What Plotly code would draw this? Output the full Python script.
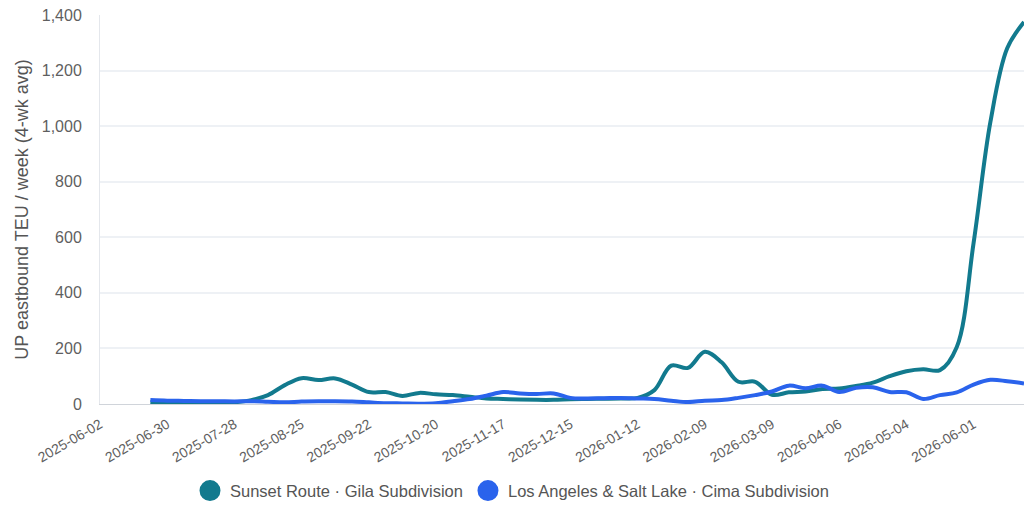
import pandas as pd
import plotly.graph_objects as go

weeks = pd.date_range("2025-06-23", periods=53, freq="7D").strftime("%Y-%m-%d").tolist()

sunset_gila = [7, 3, 1, 0, 1, 6, 14, 32, 68, 93,
               86, 92, 70, 43, 43, 29, 40, 35, 32, 26,
               20, 18, 16, 15, 15, 17, 18, 19, 20, 22,
               50, 138, 130, 188, 150, 80, 80, 33, 42, 45,
               54, 56, 65, 77, 100, 118, 125, 122, 205, 580,
               1015, 1280, 1375]

la_slc_cima = [14, 12, 11, 10, 10, 9, 10, 8, 6, 9,
               10, 10, 9, 6, 3, 2, 1, 3, 10, 18,
               30, 43, 38, 36, 38, 22, 20, 21, 22, 20,
               18, 12, 7, 12, 14, 22, 32, 45, 66, 57,
               66, 43, 58, 60, 43, 42, 18, 32, 42, 70,
               87, 82, 74]

series_names = ["Sunset Route · Gila Subdivision", "Los Angeles & Salt Lake · Cima Subdivision"]
series_colors = ["#127a8e", "#2a63ec"]

y_ticks = [0, 200, 400, 600, 800, 1000, 1200, 1400]
x_tick0 = "2025-06-02"
x_end = "2026-06-22"

fig = go.Figure()
for name, vals, col in zip(series_names, [sunset_gila, la_slc_cima], series_colors):
    fig.add_trace(go.Scatter(
        x=weeks, y=vals, mode="lines", name=name,
        line=dict(color=col, width=4, shape="spline", smoothing=1),
        showlegend=False,
    ))
    fig.add_trace(go.Scatter(
        x=[None], y=[None], mode="markers", name=name,
        marker=dict(color=col, size=16, line=dict(color=col, width=5)),
        showlegend=True,
    ))

font_family = "Liberation Sans, Arial, Helvetica, sans-serif"

fig.update_layout(
    width=1024, height=514,
    margin=dict(l=100, r=0, t=15, b=110),
    paper_bgcolor="white", plot_bgcolor="white",
    font=dict(family=font_family, color="#5f5f5f"),
    legend=dict(
        orientation="h", xref="container", yref="container",
        x=0.5, xanchor="center", y=0.045, yanchor="middle",
        font=dict(size=16.5, color="#555555"),
        itemsizing="trace", tracegroupgap=0,
    ),
    xaxis=dict(
        type="date",
        range=[x_tick0, x_end],
        tick0=x_tick0, dtick=28 * 86400000,
        tickformat="%Y-%m-%d", tickangle=-30,
        tickfont=dict(size=14, color="#5f5f5f"),
        showgrid=False,
        showline=True, linecolor="#d0d4da", linewidth=1,
        zeroline=False,
        ticks="outside", ticklen=6, tickcolor="white",
    ),
    yaxis=dict(
        range=[0, 1400],
        tickvals=y_ticks, tickformat=",",
        tickfont=dict(size=16, color="#5f5f5f"),
        ticklabelstandoff=14,
        showgrid=True, gridcolor="#eef1f5", gridwidth=1.5,
        showline=True, linecolor="#e4e7ec", linewidth=1,
        zeroline=False,
        title=dict(text="UP eastbound TEU / week (4-wk avg)",
                   font=dict(size=18, color="#555555"), standoff=8),
    ),
)

fig.write_html("out.html")
